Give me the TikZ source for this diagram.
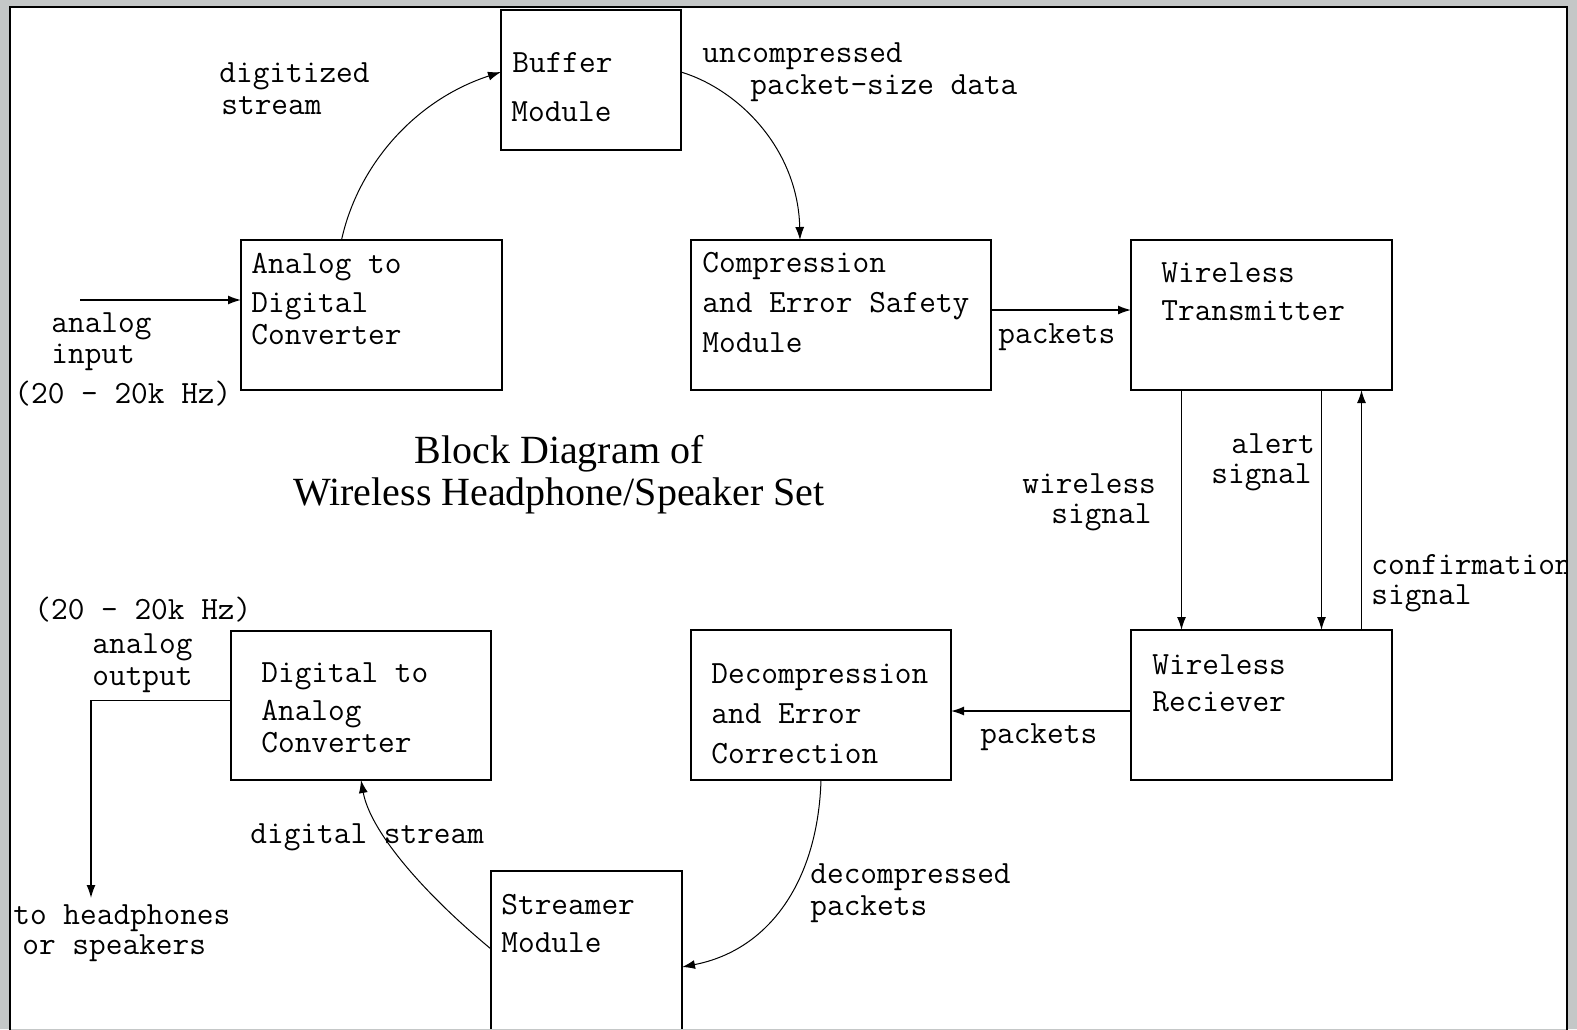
\documentclass[tikz,border=0pt]{standalone}
\usepackage{fontspec}
\newfontfamily\titlefont{Liberation Serif}
\usetikzlibrary{arrows.meta,fit}
\definecolor{framegray}{RGB}{196,199,199}
\tikzset{
  blk/.style={draw, line width=0.9pt, inner sep=0pt, outer sep=0pt},
  lbl/.style={anchor=base west, inner sep=0pt, font=\ttfamily\fontsize{16.2pt}{18pt}\selectfont},
  ttl/.style={anchor=base, inner sep=0pt, font=\titlefont\fontsize{20pt}{24pt}\selectfont},
  arr/.style={line width=0.7pt, -{Latex[length=6.5pt,width=4.5pt]}},
  bendarr/.style={line width=0.5pt, -{Latex[length=6.5pt,width=4.5pt]}},
}

\begin{document}
\begin{tikzpicture}[x=0.5pt,y=-0.5pt]
  \useasboundingbox (0,0) rectangle (1577,1029);
  \fill[white] (0,0) rectangle (1577,1029);

  % blocks
  \node[blk, fit={(501,10) (681,150)}] (buffer) {};
  \node[blk, fit={(241,240) (502,390)}] (adc) {};
  \node[blk, fit={(691,240) (991,390)}] (comp) {};
  \node[blk, fit={(1131,240) (1392,390)}] (tx) {};
  \node[blk, fit={(1131,630) (1392,780)}] (rx) {};
  \node[blk, fit={(691,630) (951,780)}] (decomp) {};
  \node[blk, fit={(231,631) (491,780)}] (dac) {};
  \node[blk, fit={(491,871) (682,1040)}] (streamer) {};

  % block texts
  \node[lbl] (buffer1) at (512,72) {Buffer};
  \node[lbl] (buffer2) at (511,121) {Module};
  \node[lbl] (adc1) at (251,273) {Analog to};
  \node[lbl] (adc2) at (251,312) {Digital};
  \node[lbl] (adc3) at (251,344) {Converter};
  \node[lbl] (comp1) at (702,272) {Compression};
  \node[lbl] (comp2) at (702,312) {and Error Safety};
  \node[lbl] (comp3) at (702,352) {Module};
  \node[lbl] (tx1) at (1161,282) {Wireless};
  \node[lbl] (tx2) at (1161,320) {Transmitter};
  \node[lbl] (rx1) at (1152,674) {Wireless};
  \node[lbl] (rx2) at (1152,711) {Reciever};
  \node[lbl] (decomp1) at (711,683) {Decompression};
  \node[lbl] (decomp2) at (711,723) {and Error};
  \node[lbl] (decomp3) at (711,763) {Correction};
  \node[lbl] (dac1) at (261,682) {Digital to};
  \node[lbl] (dac2) at (261,720) {Analog};
  \node[lbl] (dac3) at (261,752) {Converter};
  \node[lbl] (streamer1) at (501,914) {Streamer};
  \node[lbl] (streamer2) at (501,952) {Module};

  % title
  \node[ttl] (title1) at (559,463) {Block Diagram of};
  \node[ttl] (title2) at (559,505) {Wireless Headphone/Speaker Set};

  % input and output
  \coordinate (ain) at (80,300);
  \coordinate (aout) at (91,898);
  \draw[arr] (ain) -- (adc.west |- ain);
  \draw[arr] ([yshift=2.5pt]dac.west) -| (aout);
  \node[lbl] (inlbl1) at (51,332) {analog};
  \node[lbl] (inlbl2) at (51,363) {input};
  \node[lbl] (inlbl3) at (14,403) {(20 - 20k Hz)};
  \node[lbl] (outlbl1) at (34,619) {(20 - 20k Hz)};
  \node[lbl] (outlbl2) at (92,653) {analog};
  \node[lbl] (outlbl3) at (92,685) {output};
  \node[lbl] (outlbl4) at (13,924) {to headphones};
  \node[lbl] (outlbl5) at (22,954) {or speakers};

  % curved links
  \draw[bendarr] ([xshift=-15pt]adc.north) .. controls (358,165) and (415,100) .. ([yshift=4pt]buffer.west);
  \draw[bendarr] ([yshift=4pt]buffer.east) .. controls (740,90) and (798,150) .. ([xshift=-20.5pt]comp.north);
  \draw[bendarr] (decomp.south) .. controls (818,880) and (770,950) .. ([yshift=-5.75pt]streamer.east);
  \draw[bendarr] ([yshift=3.25pt]streamer.west) .. controls (420,890) and (370,830) .. (dac.south);
  \node[lbl] (digi1) at (219,82) {digitized};
  \node[lbl] (digi2) at (221,114) {stream};
  \node[lbl] (unc1) at (702,62) {uncompressed};
  \node[lbl] (unc2) at (750,94) {packet-size data};
  \node[lbl] (dec1) at (810,883) {decompressed};
  \node[lbl] (dec2) at (810,915) {packets};
  \node[lbl] (dstream) at (250,843) {digital stream};

  % straight links
  \draw[arr] ([yshift=2.5pt]comp.east) -- ([yshift=2.5pt]tx.west);
  \draw[arr] ([yshift=-3pt]rx.west) -- ([yshift=-3pt]decomp.east);
  \draw[arr] ([xshift=-40pt]tx.south) -- ([xshift=-40pt]rx.north);
  \draw[arr] ([xshift=30pt]tx.south) -- ([xshift=30pt]rx.north);
  \draw[arr] ([xshift=50pt]rx.north) -- ([xshift=50pt]tx.south);
  \node[lbl] (pk1) at (998,343) {packets};
  \node[lbl] (pk2) at (980,743) {packets};
  \node[lbl] (ws1) at (1022,493) {wireless};
  \node[lbl] (ws2) at (1051,523) {signal};
  \node[lbl] (al1) at (1231,453) {alert};
  \node[lbl] (al2) at (1211,483) {signal};
  \node[lbl] (cf1) at (1371,574) {confirmation};
  \node[lbl] (cf2) at (1371,604) {signal};

  % frame
  \fill[framegray, even odd rule] (0,0) rectangle (1577,1029) (10,7) rectangle (1567,1040);
  \draw[line width=1pt] (10,1040) -- (10,7) -- (1567,7) -- (1567,1040);
\end{tikzpicture}
\end{document}
